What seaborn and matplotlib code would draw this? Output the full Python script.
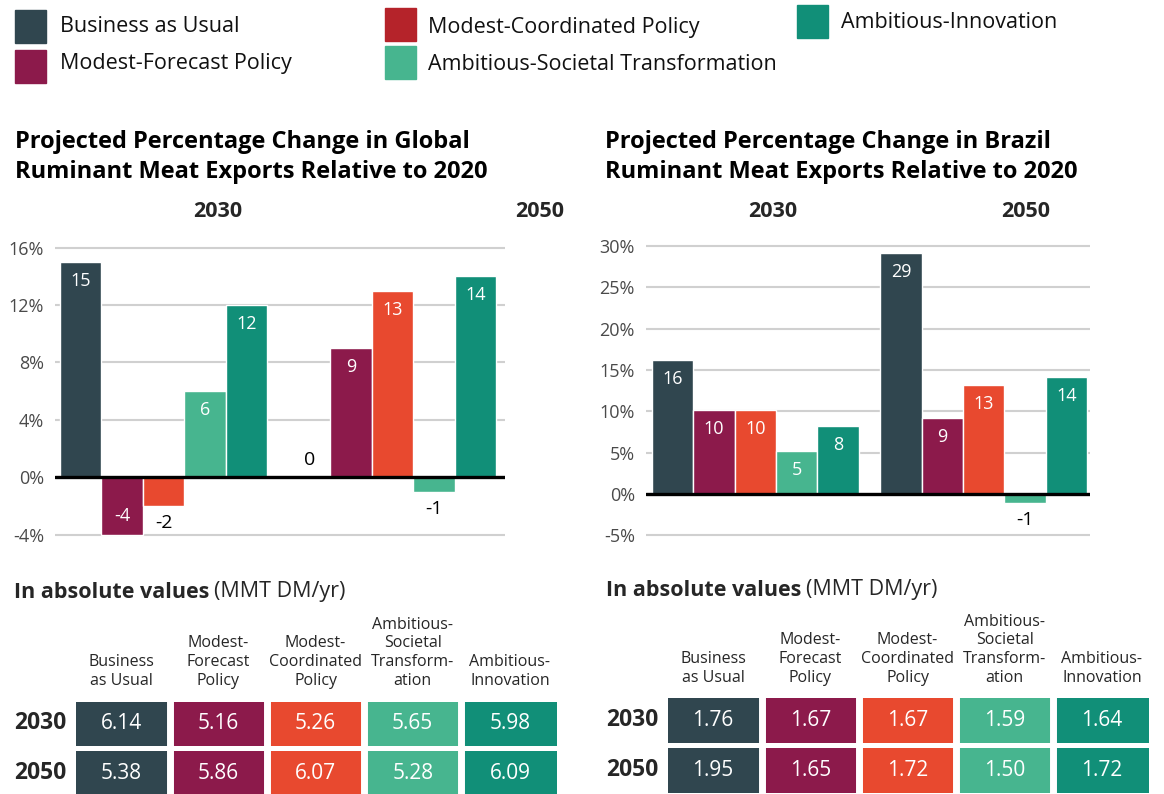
import matplotlib
matplotlib.use('Agg')
import matplotlib.pyplot as plt
from matplotlib.colors import ListedColormap
from matplotlib.patches import Rectangle
import seaborn as sns
import pandas as pd
import numpy as np

# data
scenarios = ['Business as Usual', 'Modest-Forecast Policy', 'Modest-Coordinated Policy',
             'Ambitious-Societal Transformation', 'Ambitious-Innovation']
years = ['2030', '2050']

global_2030 = [15, -4, -2, 6, 12]
global_2050 = [0, 9, 13, -1, 14]
brazil_2030 = [16.2, 10.2, 10.2, 5.2, 8.2]
brazil_2050 = [29.2, 9.2, 13.2, -1.1, 14.2]

global_abs_2030 = [6.14, 5.16, 5.26, 5.65, 5.98]
global_abs_2050 = [5.38, 5.86, 6.07, 5.28, 6.09]
brazil_abs_2030 = [1.76, 1.67, 1.67, 1.59, 1.64]
brazil_abs_2050 = [1.95, 1.65, 1.72, 1.50, 1.72]

table_headers = ['Business\nas Usual', 'Modest-\nForecast\nPolicy', 'Modest-\nCoordinated\nPolicy',
                 'Ambitious-\nSocietal\nTransform-\nation', 'Ambitious-\nInnovation']

global_ticks = [-4, 0, 4, 8, 12, 16]
brazil_ticks = [-5, 0, 5, 10, 15, 20, 25, 30]

bar_colors = ['#30464f', '#8c1a4b', '#e8492f', '#47b58f', '#118f78']
legend_colors = ['#30464f', '#8c1a4b', '#b5232a', '#47b58f', '#118f78']

sns.set_style('white')
plt.rcParams['font.family'] = ['Open Sans', 'DejaVu Sans']

W, H = 1164, 794
fig = plt.figure(figsize=(W / 100, H / 100), dpi=100)


def box(x0, y0, x1, y1):
    # pixel box (top-left origin) -> figure fraction
    return [x0 / W, 1 - y1 / H, (x1 - x0) / W, (y1 - y0) / H]


def ftext(x, y, s, **kw):
    return fig.text(x / W, 1 - y / H, s, **kw)


# legend, drawn by hand because of the uneven layout
legend_pos = [(15, 10, 60, 26), (15, 50, 60, 63), (385, 8, 428, 27),
              (385, 46, 428, 64), (797, 5, 841, 22)]
for (sx, sy, tx, ty), name, c in zip(legend_pos, scenarios, legend_colors):
    fig.patches.append(Rectangle((sx / W, 1 - (sy + 33) / H), 31 / W, 33 / H,
                                 transform=fig.transFigure, color=c))
    ftext(tx, ty, name, fontsize=15.5, va='center', color='#111111')


def bar_chart(rect, v2030, v2050, ticks, ylim, xlim, title, year_x, px_per_unit):
    ax = fig.add_axes(rect)
    df = pd.DataFrame({'year': np.repeat(years, len(scenarios)),
                       'scenario': scenarios * 2,
                       'value': list(v2030) + list(v2050)})
    sns.barplot(data=df, x='year', y='value', hue='scenario', hue_order=scenarios,
                palette=bar_colors, saturation=1, width=0.905, legend=False, ax=ax)
    ax.set_ylim(*ylim)
    ax.set_xlim(*xlim)
    ax.set_yticks(ticks)
    ax.set_yticklabels([f'{t}%' for t in ticks], fontsize=13, color='#4a4a4a')
    ax.set_xticks([])
    ax.set_xlabel('')
    ax.set_ylabel('')
    ax.tick_params(axis='y', length=0, pad=8)
    ax.set_axisbelow(True)
    ax.grid(axis='y', color='#d0d0d0', lw=1.5)
    ax.axhline(0, color='black', lw=2.4, zorder=3)
    sns.despine(ax=ax, left=True, bottom=True)

    for cont in ax.containers:
        for bar in cont:
            v = bar.get_height()
            xc = bar.get_x() + bar.get_width() / 2
            size_px = abs(v) * px_per_unit
            if size_px > 35:
                off = -19 if v > 0 else 19
                ax.annotate(f'{v:.0f}', (xc, v), xytext=(0, off * 0.72), textcoords='offset points',
                            ha='center', va='center', color='white', fontsize=13)
            else:
                off = 17 if v >= 0 else -17
                ax.annotate(f'{v:.0f}', (xc, v), xytext=(0, off * 0.72), textcoords='offset points',
                            ha='center', va='center', color='black', fontsize=14)

    tx, ty = title
    ftext(tx, ty, title_text[tx], fontsize=17, fontweight='bold', va='center',
          linespacing=1.38, color='black')
    for yx, yr in zip(year_x, years):
        ftext(yx, 212, yr, fontsize=15.5, fontweight='bold', ha='center', va='center')
    return ax


title_text = {
    15: 'Projected Percentage Change in Global\nRuminant Meat Exports Relative to 2020',
    605: 'Projected Percentage Change in Brazil\nRuminant Meat Exports Relative to 2020',
}

# global: zero at y=477.3px, 14.36 px per %
g_scale = 14.36
g_ylim = (-4.6, 16.6)
bar_chart(box(55, 477.3 - g_ylim[1] * g_scale, 505, 477.3 - g_ylim[0] * g_scale),
          global_2030, global_2050, global_ticks, g_ylim, (-0.474, 1.491),
          (15, 157), (218, 540), g_scale)

# brazil: zero at y=494px, 8.26 px per %
b_scale = 8.26
b_ylim = (-6, 31)
bar_chart(box(646, 494 - b_ylim[1] * b_scale, 1090, 494 - b_ylim[0] * b_scale),
          brazil_2030, brazil_2050, brazil_ticks, b_ylim, (-0.478, 1.466),
          (605, 157), (773, 1026), b_scale)

renderer = fig.canvas.get_renderer()


def abs_table(rect, a2030, a2050, head_x, head_y):
    ax = fig.add_axes(rect)
    vals = np.array([a2030, a2050])
    idx = np.tile(np.arange(len(scenarios)), (2, 1))
    sns.heatmap(idx, annot=vals, fmt='.2f', cmap=ListedColormap(bar_colors), vmin=-0.5, vmax=4.5,
                cbar=False, linewidths=2.2, linecolor='white',
                annot_kws={'fontsize': 15, 'color': 'white'},
                xticklabels=table_headers, yticklabels=years, ax=ax)
    # wider white gaps between the columns
    for xb in range(1, len(scenarios)):
        ax.axvline(xb, color='white', lw=5)
    ax.xaxis.tick_top()
    ax.tick_params(length=0)
    ax.set_xticklabels(table_headers, rotation=0, fontsize=11.5, linespacing=1.22, va='bottom')
    ax.set_yticklabels(years, rotation=0, fontsize=16.5, fontweight='bold')
    ax.tick_params(axis='x', pad=7)
    ax.tick_params(axis='y', pad=4.5)
    t = ftext(head_x, head_y, 'In absolute values', fontsize=15.5, fontweight='bold', va='center')
    bb = t.get_window_extent(renderer)
    fig.text(bb.x1 / W + 5 / W, 1 - head_y / H, '(MMT DM/yr)', fontsize=15.5, va='center')


abs_table(box(72.5, 698.5, 558.5, 798), global_abs_2030, global_abs_2050, 14, 592)
abs_table(box(664.5, 695.5, 1150.5, 795.5), brazil_abs_2030, brazil_abs_2050, 606, 590)

fig.savefig('out.png', dpi=100)
